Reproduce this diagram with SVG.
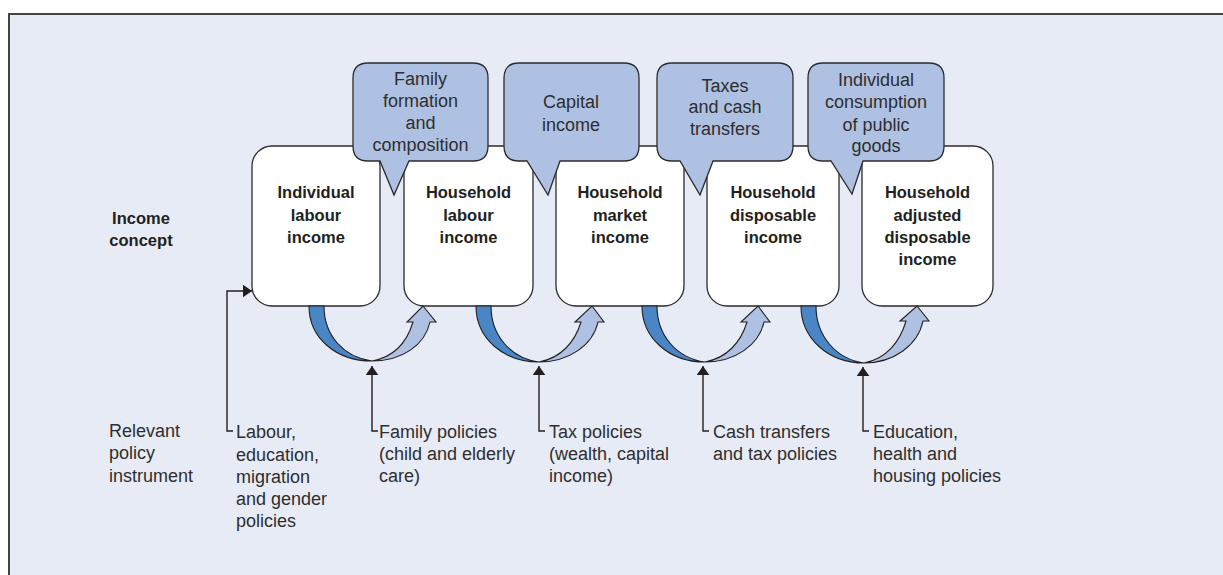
<svg xmlns="http://www.w3.org/2000/svg" width="1223" height="575" viewBox="0 0 1223 575">
<defs>
<style>
.box{fill:#ffffff;stroke:#2b2b2b;stroke-width:1.3}
.call{fill:#aec1e3;stroke:#2b2b2b;stroke-width:1.3}
.dark{fill:#4a86c6;stroke:#231f20;stroke-width:1.1}
.light{fill:#aec1e3;stroke:#231f20;stroke-width:1.1}
.conn{fill:none;stroke:#231f20;stroke-width:1.4}
.t{font-family:"Liberation Sans",Arial,sans-serif;font-size:18px;fill:#2e2e2e}
.b{font-family:"Liberation Sans",Arial,sans-serif;font-size:16.5px;font-weight:bold;fill:#231f20}
.c{text-anchor:middle}
</style>
<marker id="ah" viewBox="0 0 10 14" refX="10" refY="7" markerWidth="9" markerHeight="13" markerUnits="userSpaceOnUse" orient="auto">
<path d="M0,0 L10,7 L0,14 z" fill="#231f20"/>
</marker>
</defs>
<rect x="9" y="14" width="1222" height="570" fill="#e7ebf6" stroke="#444444" stroke-width="2"/>

<g id="labels">
<text class="b c" x="141" y="224">Income</text>
<text class="b c" x="141" y="246">concept</text>
<text class="t" x="109" y="437">Relevant</text>
<text class="t" x="109" y="459">policy</text>
<text class="t" x="109" y="482">instrument</text>
</g>

<g id="box1"><rect class="box" x="252" y="146" width="128" height="160" rx="20"/>
<text class="b c" x="316" y="198">Individual</text><text class="b c" x="316" y="221">labour</text><text class="b c" x="316" y="243">income</text></g>
<g id="box2"><rect class="box" x="404" y="146" width="129" height="160" rx="20"/>
<text class="b c" x="468.5" y="198">Household</text><text class="b c" x="468.5" y="221">labour</text><text class="b c" x="468.5" y="243">income</text></g>
<g id="box3"><rect class="box" x="556" y="146" width="128" height="160" rx="20"/>
<text class="b c" x="620" y="198">Household</text><text class="b c" x="620" y="221">market</text><text class="b c" x="620" y="243">income</text></g>
<g id="box4"><rect class="box" x="707" y="146" width="132" height="160" rx="20"/>
<text class="b c" x="773" y="198">Household</text><text class="b c" x="773" y="221">disposable</text><text class="b c" x="773" y="243">income</text></g>
<g id="box5"><rect class="box" x="862" y="146" width="131" height="160" rx="20"/>
<text class="b c" x="927.5" y="198">Household</text><text class="b c" x="927.5" y="221">adjusted</text><text class="b c" x="927.5" y="243">disposable</text><text class="b c" x="927.5" y="265">income</text></g>

<g id="callout1"><path class="call" d="M368,63 H473 Q488,63 488,78 V146 Q488,161 473,161 H409 L394,195 L380,161 H368 Q353,161 353,146 V78 Q353,63 368,63 Z"/>
<text class="t c" x="420.5" y="85">Family</text><text class="t c" x="420.5" y="107">formation</text><text class="t c" x="420.5" y="129">and</text><text class="t c" x="420.5" y="151">composition</text></g>
<g id="callout2"><path class="call" d="M519,63 H624 Q639,63 639,78 V146 Q639,161 624,161 H560 L548,195 L527,161 H519 Q504,161 504,146 V78 Q504,63 519,63 Z"/>
<text class="t c" x="571" y="108">Capital</text><text class="t c" x="571" y="131">income</text></g>
<g id="callout3"><path class="call" d="M672,63 H778 Q793,63 793,78 V146 Q793,161 778,161 H713 L700,195 L680,161 H672 Q657,161 657,146 V78 Q657,63 672,63 Z"/>
<text class="t c" x="725" y="92">Taxes</text><text class="t c" x="725" y="113">and cash</text><text class="t c" x="725" y="135">transfers</text></g>
<g id="callout4"><path class="call" d="M823,63 H929 Q944,63 944,78 V146 Q944,161 929,161 H863 L852,194 L831,161 H823 Q808,161 808,146 V78 Q808,63 823,63 Z"/>
<text class="t c" x="876" y="86">Individual</text><text class="t c" x="876" y="108">consumption</text><text class="t c" x="876" y="131">of public</text><text class="t c" x="876" y="152">goods</text></g>

<g id="flows">
<g transform="translate(372,0)">
<path class="dark" d="M-63,306 C-63,338 -36,361 0,361 C-28,357 -48,336 -48,306 Z"/>
<path class="light" d="M0,361 C30,361 53,345 58,322 L64,322 L51,306 L35,322 L41,322 C35,342 22,357 0,361 Z"/>
</g>
<g transform="translate(539,0)">
<path class="dark" d="M-63,306 C-63,338 -36,362 0,362 C-28,358 -48,336 -48,306 Z"/>
<path class="light" d="M0,362 C30,362 54,345 59,322 L65,322 L53,306 L36,322 L42,322 C36,342 22,358 0,362 Z"/>
</g>
<g transform="translate(705,0)">
<path class="dark" d="M-63,306 C-63,338 -36,362 0,362 C-28,358 -48,336 -48,306 Z"/>
<path class="light" d="M0,362 C30,362 54,345 59,322 L65,322 L53,306 L36,322 L42,322 C36,342 22,358 0,362 Z"/>
</g>
<g transform="translate(864,0)">
<path class="dark" d="M-63,306 C-63,338 -36,363 0,363 C-28,359 -48,336 -48,306 Z"/>
<path class="light" d="M0,363 C30,363 54,345 59,321 L65,321 L53,306 L36,321 L42,321 C36,342 22,359 0,363 Z"/>
</g>
</g>

<g id="connectors">
<path class="conn" d="M233,431 H227 V291 H252" marker-end="url(#ah)"/>
<path class="conn" d="M378,431 H372 V366" marker-end="url(#ah)"/>
<path class="conn" d="M545,431 H539 V366" marker-end="url(#ah)"/>
<path class="conn" d="M709,431 H703 V366" marker-end="url(#ah)"/>
<path class="conn" d="M869,431 H863 V367" marker-end="url(#ah)"/>
</g>

<g id="policy1"><text class="t" x="236" y="438">Labour,</text><text class="t" x="236" y="461">education,</text><text class="t" x="236" y="483">migration</text><text class="t" x="236" y="505">and gender</text><text class="t" x="236" y="527">policies</text></g>
<g id="policy2"><text class="t" x="379" y="438">Family policies</text><text class="t" x="379" y="460">(child and elderly</text><text class="t" x="379" y="482">care)</text></g>
<g id="policy3"><text class="t" x="549" y="438">Tax policies</text><text class="t" x="549" y="460">(wealth, capital</text><text class="t" x="549" y="482">income)</text></g>
<g id="policy4"><text class="t" x="713" y="438">Cash transfers</text><text class="t" x="713" y="460">and tax policies</text></g>
<g id="policy5"><text class="t" x="873" y="438">Education,</text><text class="t" x="873" y="460">health and</text><text class="t" x="873" y="482">housing policies</text></g>
</svg>
